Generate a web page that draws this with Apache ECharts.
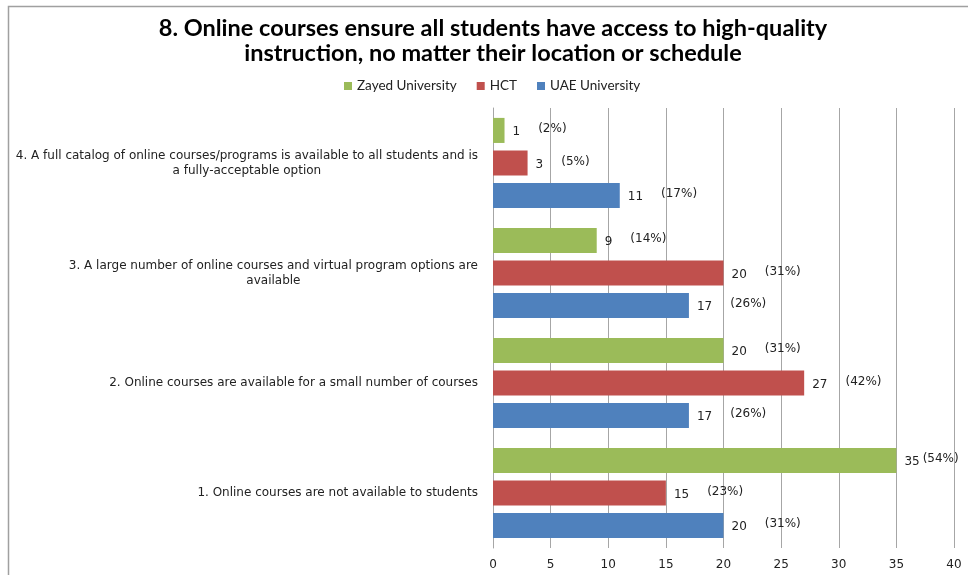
<!DOCTYPE html>
<html>
<head>
<meta charset="utf-8">
<script src="https://cdn.jsdelivr.net/npm/echarts@6/dist/echarts.min.js"></script>
<style>
  html, body { margin: 0; padding: 0; background: #fff; }
  #chart { width: 968px; height: 575px; }
</style>
</head>
<body>
<div id="chart"></div>
<script>
// Answer options, listed bottom to top
const categories = [
  '1. Online courses are not available to students',
  '2. Online courses are available for a small number of courses',
  '3. A large number of online courses and virtual program options are\navailable',
  '4. A full catalog of online courses/programs is available to all students and is\na fully-acceptable option'
];
const tickValues = [0, 5, 10, 15, 20, 25, 30, 35, 40];

// Response counts and shares per institution
const zayedCounts = [35, 20, 9, 1];
const zayedPct = [54, 31, 14, 2];
const hctCounts = [15, 27, 20, 3];
const hctPct = [23, 42, 31, 5];
const uaeCounts = [20, 17, 17, 11];
const uaePct = [31, 26, 26, 17];

// Series listed top bar first within each group
const seriesDefs = [
  { name: 'Zayed University', counts: zayedCounts, pct: zayedPct, color: '#9BBB59' },
  { name: 'HCT', counts: hctCounts, pct: hctPct, color: '#C0504D' },
  { name: 'UAE University', counts: uaeCounts, pct: uaePct, color: '#4F81BD' }
];

const chart = echarts.init(document.getElementById('chart'));

const labelFont = { fontFamily: 'DejaVu Sans', fontSize: 12, color: '#222' };

const series = seriesDefs.map(s => ({
  name: s.name,
  type: 'bar',
  data: s.counts,
  barGap: '30%',
  barCategoryGap: '18%',
  itemStyle: { color: s.color },
  label: {
    show: true,
    position: 'right',
    distance: 8,
    formatter: p => {
      // keep the share text inside the plot when the bar reaches far right
      const pk = p.value >= 30 ? 'pn' : 'p';
      return '{v|' + p.value + '}{' + pk + '|(' + s.pct[p.dataIndex] + '%)}';
    },
    rich: {
      v: Object.assign({ padding: [3, 0, 0, 0] }, labelFont),
      p: Object.assign({ padding: [0, 0, 3, 18] }, labelFont),
      pn: Object.assign({ padding: [0, 0, 3, 3] }, labelFont)
    }
  }
}));

chart.setOption({
  animation: false,
  backgroundColor: '#fff',
  title: {
    text: '8. Online courses ensure all students have access to high-quality\ninstruction, no matter their location or schedule',
    left: 493,
    textAlign: 'center',
    top: 11,
    padding: [5, 0, 5, 0],
    textStyle: {
      fontFamily: 'Lato',
      fontWeight: 'bold',
      fontSize: 23.5,
      lineHeight: 25,
      color: '#000'
    }
  },
  legend: {
    data: ['Zayed University', 'HCT', 'UAE University'],
    top: 74,
    left: 344,
    padding: [5, 0, 5, 0],
    itemWidth: 8,
    itemHeight: 8,
    itemGap: 20,
    icon: 'rect',
    textStyle: { fontFamily: 'Lato', fontSize: 13.5, color: '#222' }
  },
  grid: {
    left: 493,
    right: 14,
    top: 108,
    bottom: 27,
    containLabel: false
  },
  xAxis: {
    type: 'value',
    min: 0,
    max: 40,
    interval: 5,
    axisLine: { show: false },
    axisTick: { show: false },
    axisLabel: {
      fontFamily: 'DejaVu Sans',
      fontSize: 12,
      color: '#222',
      margin: 11,
      formatter: v => tickValues.includes(v) ? String(v) : ''
    },
    splitLine: { show: true, lineStyle: { color: '#a6a6a6', width: 1 } }
  },
  yAxis: {
    type: 'category',
    data: categories,
    axisLine: { show: true, lineStyle: { color: '#a6a6a6', width: 1 } },
    axisTick: { show: false },
    splitLine: { show: false },
    axisLabel: {
      margin: 15,
      align: 'right',
      formatter: v => v.split('\n').map(l => '{c|' + l + '}').join('\n'),
      rich: {
        c: {
          fontFamily: 'DejaVu Sans',
          fontSize: 12,
          lineHeight: 15,
          color: '#222',
          align: 'center'
        }
      }
    }
  },
  graphic: [{
    type: 'rect',
    shape: { x: 8.5, y: 6.5, width: 1200, height: 1000 },
    style: { fill: null, stroke: '#a0a0a0', lineWidth: 1.5 },
    silent: true,
    z: -1
  }],
  series: series
});
</script>
</body>
</html>
